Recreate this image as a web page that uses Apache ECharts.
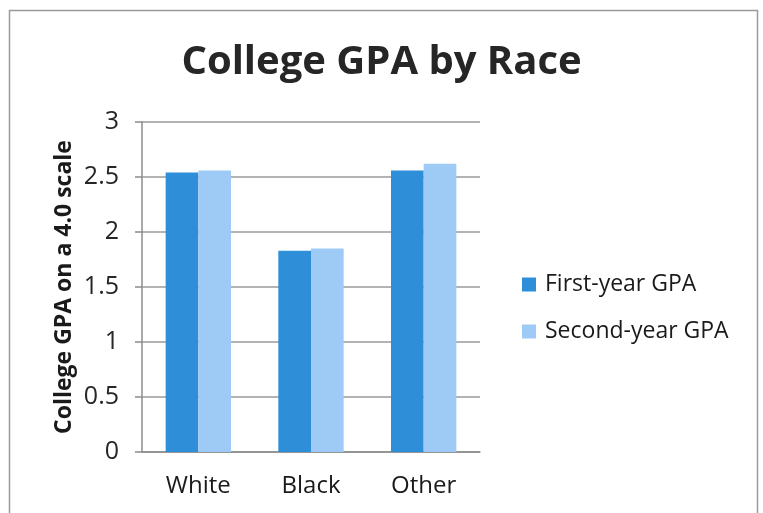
<!DOCTYPE html>
<html>
<head>
<meta charset="utf-8">
<script src="https://cdn.jsdelivr.net/npm/echarts@6/dist/echarts.min.js"></script>
<style>
  html, body { margin: 0; padding: 0; background: #fff; }
  #chart { width: 763px; height: 513px; }
</style>
</head>
<body>
<div id="chart"></div>
<script>
// Mean college GPA (4.0 scale) by race, first and second year
var categories = ['White', 'Black', 'Other'];
var firstYear = [2.54, 1.83, 2.56];
var secondYear = [2.56, 1.85, 2.62];
var seriesNames = ['First-year GPA', 'Second-year GPA'];
var yTicks = { min: 0, max: 3, interval: 0.5 };

var FONT = '"Open Sans", "Noto Sans", sans-serif';
var chart = echarts.init(document.getElementById('chart'), null, { renderer: 'canvas' });

chart.setOption({
  backgroundColor: '#ffffff',
  animation: false,
  graphic: [{
    type: 'rect',
    shape: { x: 9.5, y: 10.5, width: 748, height: 530 },
    style: { fill: 'none', stroke: '#9a9a9a', lineWidth: 1.5 },
    silent: true,
    z: -1
  }],
  title: {
    text: 'College GPA by Race',
    left: 'center',
    top: 38,
    textStyle: { fontFamily: FONT, fontSize: 40, fontWeight: 'bold', color: '#262626' }
  },
  legend: {
    orient: 'vertical',
    left: 517,
    top: 268,
    itemWidth: 14,
    itemHeight: 14,
    itemGap: 24,
    icon: 'rect',
    textStyle: { fontFamily: FONT, fontSize: 23, color: '#1a1a1a', padding: [0, 0, 0, 4] },
    data: seriesNames
  },
  grid: { left: 142, right: 283, top: 122, bottom: 61, containLabel: false },
  xAxis: {
    type: 'category',
    data: categories,
    axisLine: { lineStyle: { color: '#8c8c8c', width: 1.5 } },
    axisTick: { show: false },
    axisLabel: { fontFamily: FONT, fontSize: 24, color: '#1a1a1a', margin: 22 }
  },
  yAxis: {
    type: 'value',
    min: yTicks.min,
    max: yTicks.max,
    interval: yTicks.interval,
    name: 'College GPA on a 4.0 scale',
    nameLocation: 'middle',
    nameGap: 66,
    nameTextStyle: { fontFamily: FONT, fontSize: 23, fontWeight: 'bold', color: '#1a1a1a' },
    axisLine: { show: true, lineStyle: { color: '#8c8c8c', width: 1.5 } },
    axisTick: { show: true, length: 7, lineStyle: { color: '#8c8c8c', width: 1.5 } },
    axisLabel: { fontFamily: FONT, fontSize: 25, color: '#262626', margin: 23,
      formatter: function (v) { return String(v); } },
    splitLine: { lineStyle: { color: '#9a9a9a', width: 1.5 } }
  },
  series: [
    {
      name: seriesNames[0],
      type: 'bar',
      data: firstYear,
      barGap: '0%',
      barCategoryGap: '42%',
      itemStyle: { color: '#2f8ed8' }
    },
    {
      name: seriesNames[1],
      type: 'bar',
      data: secondYear,
      itemStyle: { color: '#9ecbf5' }
    }
  ]
});
</script>
</body>
</html>
